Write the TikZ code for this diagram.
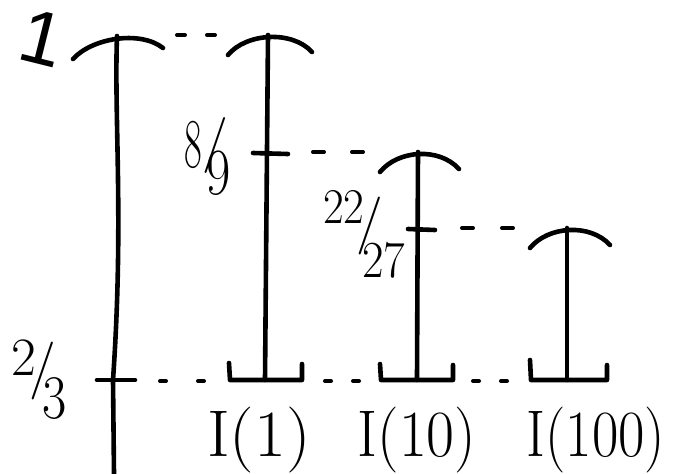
\documentclass[tikz,border=0pt]{standalone}
\usepackage{graphicx}
\usepackage{fontspec}
\newfontfamily\plainsans{Liberation Sans}
\newcommand\fsz[1]{\fontsize{#1}{#1}\selectfont}
\begin{document}
\begin{tikzpicture}[x=1pt,y=-1pt,
  ink/.style={line width=4.6pt,line cap=round,line join=round},
  topcap/.style={ink},
  guide/.style={line width=4pt,line cap=round},
  glyph/.style={inner sep=0pt},
  fs/.style={font=\fontsize{#1}{#1}\selectfont}]
\useasboundingbox (0,0) rectangle (678,474);

% vertical axis with its top cap and the 2/3 tick
\coordinate (axTop) at (117,36);
\coordinate (axBot) at (114,474);
\draw[ink] (axTop) .. controls (114,120) and (124,220) .. (113,380) -- (axBot);
\draw[topcap] (73,59) .. controls (92,38) and (140,30) .. (163,48);
\coordinate (tTwoL) at (97,380);
\coordinate (tTwoR) at (135,380);
\draw[ink] (tTwoL) -- (tTwoR);

% interval bars: name / x at top / x at foot / top y / cap ends
\foreach \n/\xt/\xb/\yt/\la/\ra in {one/268/265/35/40/44, ten/418/417/152/38/41, hund/567/567/228/37/43}{
  \coordinate (\n Top) at (\xt,\yt);
  \coordinate (\n Bot) at (\xb,380);
  \draw[ink] (\n Top) -- (\n Bot);
  \draw[topcap] (\xt-\la,\yt+20) .. controls (\xt-\la+18,\yt-2) and (\xt+\ra-20,\yt-5) .. (\xt+\ra,\yt+17);
}
\draw[ink] (229,363) -- (230,380) -- (302,380) -- (302,364);
\draw[ink] (380,364) -- (381,380) -- (453,380) -- (453,365);
\draw[ink] (530,360) -- (531,380) -- (607,380) -- (607,365);

% tick marks at 8/9 and 22/27
\coordinate (tkAL) at (253,153);
\coordinate (tkAR) at (288,154);
\coordinate (tkBL) at (408,229);
\coordinate (tkBR) at (435,230);
\draw[ink] (tkAL) -- (tkAR);
\draw[ink] (tkBL) -- (tkBR);

% dashed guide lines
\draw[guide,dash pattern=on 8pt off 22pt] (177,35) -- (216,35);
\draw[guide,dash pattern=on 11pt off 28pt] (313,152) -- (364,152);
\draw[guide,dash pattern=on 11pt off 29pt] (462,228) -- (515,228);
\draw[guide,dash pattern=on 6pt off 32pt] (160,381) -- (204,381);
\draw[guide,dash pattern=on 6pt off 22pt] (325,381) -- (359,381);
\draw[guide,dash pattern=on 6pt off 22pt] (473,381) -- (507,381);

% value labels, each fraction set as one box
\node[glyph,fs=76,rotate=-14] (lOne) at (42,38) {\plainsans 1};

\node[glyph,fs=70,anchor=base west] (lEight) at (184,167)
  {\scalebox{0.55}[1]{8}\kern1pt\raisebox{8pt}{\fsz{56}/}\kern-22pt\raisebox{-27pt}{\fsz{66}\scalebox{0.8}[1]{9}}};

\node[glyph,fs=50,anchor=base west] (lTwTs) at (323,223)
  {\scalebox{0.9}[1]{22}\kern-8pt\raisebox{-17.5pt}{\fsz{58}/}\kern-21pt\raisebox{-54pt}{\fsz{52}\scalebox{0.9}[1]{27}}};

\node[glyph,fs=54,anchor=base west] (lTwoTh) at (11,375)
  {2\kern-6pt\raisebox{-10.5pt}{\fsz{58}/}\kern-14pt\raisebox{-43pt}{\fsz{62}\scalebox{0.85}[1]{3}}};

% interval names
\node[glyph,fs=66,anchor=base] (nOne) at (259,456) {\scalebox{1.05}[1]{I(1)}};
\node[glyph,fs=66,anchor=base] (nTen) at (417,456) {\scalebox{0.92}[1]{I(10)}};
\node[glyph,fs=66,anchor=base] (nHund) at (596,456) {\scalebox{0.87}[1]{I(100)}};
\end{tikzpicture}
\end{document}
